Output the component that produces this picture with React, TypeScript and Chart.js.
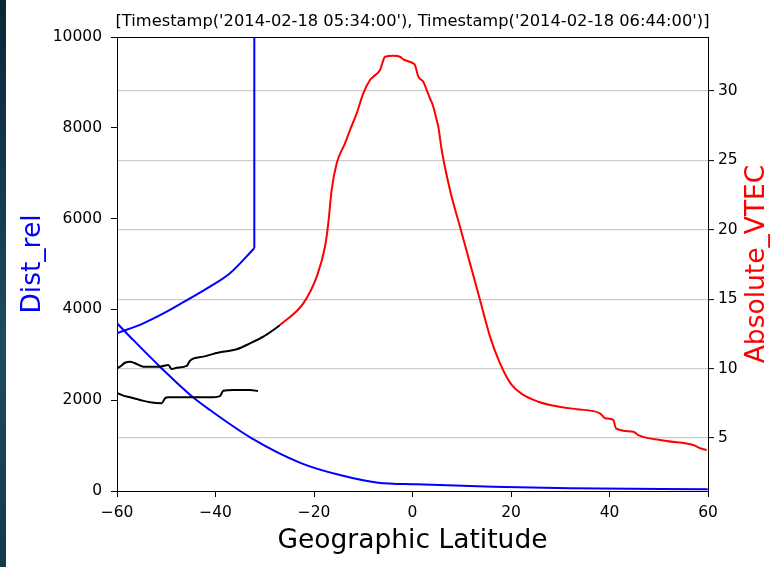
import React, { useEffect, useRef } from 'react';
import { Chart, registerables } from 'chart.js';

Chart.register(...registerables);

const TITLE = "[Timestamp('2014-02-18 05:34:00'), Timestamp('2014-02-18 06:44:00')]";
const X_LABEL = 'Geographic Latitude';
const Y_LEFT_LABEL = 'Dist_rel';
const Y_RIGHT_LABEL = 'Absolute_VTEC';

const X_TICKS = [-60, -40, -20, 0, 20, 40, 60];
const LEFT_TICKS = [0, 2000, 4000, 6000, 8000, 10000];
const RIGHT_TICKS = [5, 10, 15, 20, 25, 30];

// Absolute VTEC (red), right axis
const RED_LAT = [-26.9, -22.17, -19.45, -17.77, -17.1, -16.41, -15.39, -13.71, -12.69, -11.33, -9.99, -8.63, -7.96, -6.6, -6.25, -5.58, -3.9, -2.54, -1.87, 0.16, 0.51, 1.18, 2.19, 2.88, 3.55, 4.22, 4.91, 5.24, 5.93, 7.61, 9.64, 11.68, 13.71, 15.74, 17.77, 20.14, 22.5, 25.54, 27.92, 33.34, 38.07, 39.09, 40.77, 41.32, 44.83, 45.85, 51.61, 57.02, 58.38, 59.74];
const RED_VTEC = [13.14, 14.7, 16.62, 18.78, 20.47, 22.87, 24.79, 26.23, 27.19, 28.39, 29.83, 30.79, 31.03, 31.51, 31.87, 32.47, 32.54, 32.47, 32.28, 31.99, 31.87, 31.03, 30.67, 30.07, 29.47, 28.87, 27.91, 27.43, 25.75, 22.87, 20.22, 17.58, 14.94, 12.3, 10.38, 8.82, 8.1, 7.61, 7.38, 7.07, 6.78, 6.42, 6.3, 5.7, 5.45, 5.21, 4.78, 4.49, 4.26, 4.13];

// Black VTEC traces, right axis
const BLACK1_LAT = [-60, -59.39, -58.38, -57.36, -56.35, -54.66, -51.27, -49.58, -48.89, -47.88, -45.85, -45.18, -42.48, -39.09, -35.7, -33.0, -30.29, -28.26, -26.9];
const BLACK1_VTEC = [10.02, 10.14, 10.42, 10.5, 10.38, 10.14, 10.14, 10.26, 9.97, 10.06, 10.19, 10.57, 10.86, 11.17, 11.39, 11.82, 12.3, 12.78, 13.14];

const BLACK2_LAT = [-60, -58.72, -57.36, -55.33, -53.3, -50.92, -50.25, -49.58, -45.85, -41.12, -39.09, -38.42, -36.39, -33.0, -31.37];
const BLACK2_VTEC = [8.24, 8.05, 7.93, 7.74, 7.57, 7.5, 7.86, 7.93, 7.93, 7.93, 8.02, 8.41, 8.46, 8.46, 8.38];

// Dist_rel (blue), left axis
const BLUE1_LAT = [-60, -54.66, -49.91, -45.18, -41.12, -37.06, -32.12];
const BLUE1_DIST = [3474, 3694, 3950, 4245, 4501, 4796, 5347];
const BLUE1_JUMP_LAT = [-32.12, -32.12];
const BLUE1_JUMP_DIST = [5347, 60000];

const BLUE2_LAT = [-60, -57.36, -51.27, -44.69, -41.12, -32.63, -22.52, -14.74, -6.96, 0.81, 16.37, 31.94, 59.94];
const BLUE2_DIST = [3694, 3399, 2738, 2077, 1784, 1161, 610, 352, 183, 148, 95, 59, 37];

const FONT = '"DejaVu Sans", "Liberation Sans", sans-serif';

const toXY = (xs: number[], ys: number[]) => xs.map((x, i) => ({ x, y: ys[i] }));
const fmt = (v: number) => (v < 0 ? '\u2212' + Math.abs(v) : String(v));

const textPlugin = {
  id: 'mplText',
  afterDraw(chart: any) {
    const { ctx, chartArea } = chart;
    const { left, right, top, bottom } = chartArea;
    const cx = (left + right) / 2;
    const cy = (top + bottom) / 2;
    ctx.save();
    ctx.strokeStyle = '#000';
    ctx.lineWidth = 1;
    ctx.beginPath();
    ctx.moveTo(left, Math.round(top) + 0.5);
    ctx.lineTo(right, Math.round(top) + 0.5);
    ctx.stroke();

    ctx.fillStyle = '#000';
    ctx.textAlign = 'center';
    ctx.textBaseline = 'alphabetic';
    ctx.font = `16.3px ${FONT}`;
    ctx.fillText(TITLE, cx, 26);

    ctx.font = `26.5px ${FONT}`;
    ctx.fillText(X_LABEL, cx, 548);

    ctx.textBaseline = 'middle';
    ctx.save();
    ctx.translate(33, cy);
    ctx.rotate(-Math.PI / 2);
    ctx.fillStyle = '#0000ff';
    ctx.fillText(Y_LEFT_LABEL, 0, 0);
    ctx.restore();

    ctx.save();
    ctx.translate(757, cy);
    ctx.rotate(-Math.PI / 2);
    ctx.fillStyle = '#ff0000';
    ctx.fillText(Y_RIGHT_LABEL, 0, 0);
    ctx.restore();
    ctx.restore();
  },
};

export default function App() {
  const ref = useRef<HTMLCanvasElement>(null);
  useEffect(() => {
    const line = (data: any, color: string, axis: string, mono = true) => ({
      data,
      yAxisID: axis,
      borderColor: color,
      backgroundColor: color,
      borderWidth: 2,
      pointRadius: 0,
      fill: false,
      cubicInterpolationMode: mono ? 'monotone' : 'default',
      tension: 0,
    });
    const tickFont = { family: FONT, size: 15.5 };
    const chart = new Chart(ref.current as HTMLCanvasElement, {
      type: 'line',
      data: {
        datasets: [
          line(toXY(RED_LAT, RED_VTEC), '#ff0000', 'yR'),
          line(toXY(BLACK1_LAT, BLACK1_VTEC), '#000000', 'yR'),
          line(toXY(BLACK2_LAT, BLACK2_VTEC), '#000000', 'yR'),
          line(toXY(BLUE1_LAT, BLUE1_DIST), '#0000ff', 'y'),
          line(toXY(BLUE1_JUMP_LAT, BLUE1_JUMP_DIST), '#0000ff', 'y', false),
          line(toXY(BLUE2_LAT, BLUE2_DIST), '#0000ff', 'y'),
        ] as any,
      },
      options: {
        animation: false,
        responsive: false,
        devicePixelRatio: 1,
        parsing: false,
        layout: { padding: { top: 37, left: 0, right: 0, bottom: 0 } },
        plugins: { legend: { display: false }, tooltip: { enabled: false }, title: { display: false } },
        scales: {
          x: {
            type: 'linear',
            position: 'bottom',
            min: -60,
            max: 60,
            afterBuildTicks: (s: any) => { s.ticks = X_TICKS.map((v) => ({ value: v })); },
            afterFit: (s: any) => { s.height = 76; },
            grid: { drawOnChartArea: false, drawTicks: true, tickLength: 6, tickColor: '#000', tickWidth: 1 },
            border: { display: true, color: '#000', width: 1 },
            ticks: { color: '#000', font: tickFont, padding: 7, maxRotation: 0, autoSkip: false, callback: (v: any) => fmt(Number(v)) },
          },
          y: {
            type: 'linear',
            position: 'left',
            min: 0,
            max: 10000,
            afterBuildTicks: (s: any) => { s.ticks = LEFT_TICKS.map((v) => ({ value: v })); },
            afterFit: (s: any) => { s.width = 117; },
            grid: { drawOnChartArea: false, drawTicks: true, tickLength: 6, tickColor: '#000', tickWidth: 1 },
            border: { display: true, color: '#000', width: 1 },
            ticks: { color: '#000', font: tickFont, padding: 9, autoSkip: false, callback: (v: any) => fmt(Number(v)) },
          },
          yR: {
            type: 'linear',
            position: 'right',
            min: 1.18,
            max: 33.89,
            afterBuildTicks: (s: any) => { s.ticks = RIGHT_TICKS.map((v) => ({ value: v })); },
            afterFit: (s: any) => { s.width = 71; },
            grid: { drawOnChartArea: true, color: '#cccccc', lineWidth: 1.2, drawTicks: true, tickLength: 6, tickColor: '#000', tickWidth: 1 },
            border: { display: true, color: '#000', width: 1 },
            ticks: { color: '#000', font: tickFont, padding: 4, autoSkip: false, callback: (v: any) => fmt(Number(v)) },
          },
        },
      } as any,
      plugins: [textPlugin],
    });
    return () => chart.destroy();
  }, []);

  return (
    <div style={{ position: 'fixed', left: 0, top: 0, width: 779, height: 567, background: '#ffffff', overflow: 'hidden' }}>
      <canvas ref={ref} width={779} height={567} style={{ display: 'block' }} />
      <div
        style={{
          position: 'absolute',
          left: 0,
          top: 0,
          width: 6,
          height: 567,
          background: 'linear-gradient(to bottom, #0c2637 0%, #163e52 40%, #1d4c60 60%, #13394a 100%)',
        }}
      />
    </div>
  );
}
